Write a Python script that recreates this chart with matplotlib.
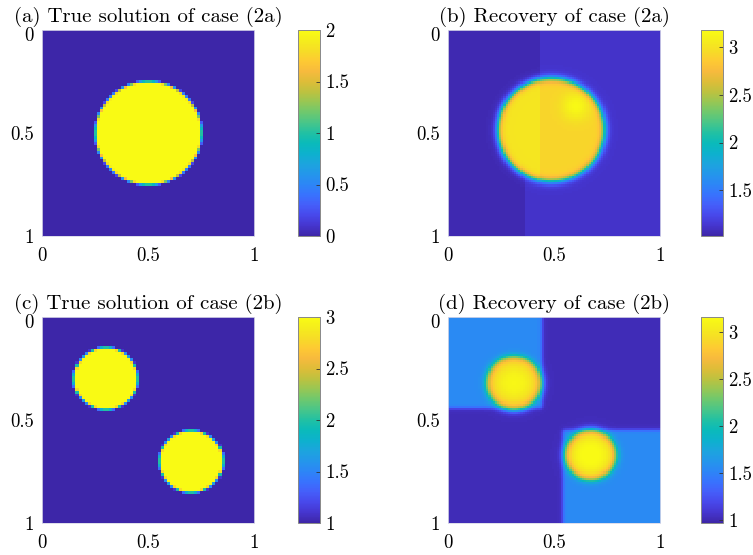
import numpy as np
import matplotlib.pyplot as plt
import matplotlib.transforms as mtrans
from matplotlib.colors import LinearSegmentedColormap

plt.rcParams['font.family'] = ['cmr10', 'DejaVu Serif']
plt.rcParams['axes.formatter.use_mathtext'] = True

# parula-like colormap (anchor colours)
parula_pts = [
    (0.2422, 0.1504, 0.6603), (0.2720, 0.2100, 0.8100), (0.2810, 0.2838, 0.9206),
    (0.2700, 0.3700, 0.9800), (0.2200, 0.4500, 0.9950), (0.1750, 0.5250, 0.9650),
    (0.1400, 0.5900, 0.9200), (0.1100, 0.6450, 0.8700), (0.0500, 0.6950, 0.8050),
    (0.0400, 0.7300, 0.7300), (0.1300, 0.7550, 0.6400), (0.2800, 0.7750, 0.5400),
    (0.4300, 0.7850, 0.4300), (0.5900, 0.7800, 0.3300), (0.7400, 0.7600, 0.2500),
    (0.8700, 0.7400, 0.2200), (0.9700, 0.7300, 0.2400), (0.9950, 0.7900, 0.2000),
    (0.9650, 0.8650, 0.1500), (0.9600, 0.9300, 0.1100), (0.9769, 0.9839, 0.0805),
]
parula = LinearSegmentedColormap.from_list('parula', parula_pts)

titles = ['(a) True solution of case (2a)', '(b) Recovery of case (2a)',
          '(c) True solution of case (2b)', '(d) Recovery of case (2b)']

# true solutions: inclusions (cx, cy, r), background / inclusion value
true_a_disks = [(0.50, 0.50, 0.25)]
true_a_levels = (0.0, 2.0)
true_b_disks = [(0.30, 0.30, 0.15), (0.70, 0.70, 0.15)]
true_b_levels = (1.0, 3.0)

# recovery (2a): background left/right, split x (upper, lower half), disk
rec_a_bg = (1.05, 1.12)
rec_a_split = (0.43, 0.36)
rec_a_disk = (0.485, 0.485, 0.25)
rec_a_inner = (2.92, 0.10)              # base, extra on left part
rec_a_spot = (0.60, 0.37, 0.045, 0.25)  # highlight cx, cy, size, amount

# recovery (2b): background, quadrant value, quadrant limits, disks
rec_b_bg = 1.02
rec_b_quad = 1.55
rec_b_tl = (0.44, 0.44)
rec_b_br = (0.54, 0.55)
rec_b_disks = [(0.31, 0.32, 0.13), (0.67, 0.67, 0.122)]
rec_b_inner = [(2.75, 0.38), (2.80, 0.40)]

clims = [(0, 2), (1.02, 3.18), (1, 3), (0.97, 3.16)]
cticks = [[0, 0.5, 1, 1.5, 2], [1.5, 2, 2.5, 3], [1, 1.5, 2, 2.5, 3], [1, 1.5, 2, 2.5, 3]]
axis_ticks = [0, 0.5, 1]
axis_labels = ['0', '0.5', '1']


def disk_cover(disks, n, sub=8):
    s = (np.arange(n * sub) + 0.5) / (n * sub)
    X, Y = np.meshgrid(s, s)
    inside = np.zeros_like(X)
    for cx, cy, r in disks:
        inside = np.maximum(inside, ((X - cx) ** 2 + (Y - cy) ** 2 <= r ** 2).astype(float))
    return inside.reshape(n, sub, n, sub).mean(axis=(1, 3))


def sig(t):
    return 0.5 * (1 + np.tanh(t))


N = 100
g = (np.arange(N) + 0.5) / N
X, Y = np.meshgrid(g, g)

fa = true_a_levels[0] + (true_a_levels[1] - true_a_levels[0]) * disk_cover(true_a_disks, 70)
fc = true_b_levels[0] + (true_b_levels[1] - true_b_levels[0]) * disk_cover(true_b_disks, 70)

# (b)
split = np.where(Y < 0.5, rec_a_split[0], rec_a_split[1])
bg = np.where(X < split, rec_a_bg[0], rec_a_bg[1])
cx, cy, r = rec_a_disk
d = np.hypot(X - cx, Y - cy)
sx, sy, ss, sa = rec_a_spot
inner = (rec_a_inner[0] + rec_a_inner[1] * (X < 0.43)
         + sa * np.exp(-((X - sx) ** 2 + (Y - sy) ** 2) / (2 * ss ** 2)))
fb = bg + (inner - bg) * sig((r - d) / 0.018)

# (d)
tl = sig((rec_b_tl[0] - X) / 0.01) * sig((rec_b_tl[1] - Y) / 0.01)
br = sig((X - rec_b_br[0]) / 0.01) * sig((Y - rec_b_br[1]) / 0.01)
fd = rec_b_bg + (rec_b_quad - rec_b_bg) * (tl + br)
for (cx, cy, r), (base, amp) in zip(rec_b_disks, rec_b_inner):
    d = np.hypot(X - cx, Y - cy)
    inner = base + amp * np.clip(1 - (d / r) ** 2, 0, 1)
    fd = fd + (inner - fd) * sig((r - d) / 0.018)

fields = [fa, fb, fc, fd]

fig = plt.figure(figsize=(7.53, 5.55), dpi=100)
W, H = 753, 555
ax_x = [42, 448]
cb_x = [298, 701]
row_y = [30, 317]
ax_w, ax_h, cb_w = 212, 206, 22
shift_down = mtrans.ScaledTranslation(0, -4 / 100, fig.dpi_scale_trans)

for k in range(4):
    row, col = divmod(k, 2)
    top = row_y[row]
    ax = fig.add_axes([ax_x[col] / W, 1 - (top + ax_h) / H, ax_w / W, ax_h / H])
    cax = fig.add_axes([cb_x[col] / W, 1 - (top + ax_h) / H, cb_w / W, ax_h / H])
    im = ax.imshow(fields[k], cmap=parula, vmin=clims[k][0], vmax=clims[k][1],
                   extent=[0, 1, 1, 0], aspect='auto', interpolation='nearest')
    ax.set_xticks(axis_ticks)
    ax.set_xticklabels(axis_labels)
    ax.set_yticks(axis_ticks)
    ax.set_yticklabels(axis_labels)
    ax.tick_params(length=0, labelsize=13.5)
    ax.tick_params(axis='x', pad=8)
    ax.tick_params(axis='y', pad=6)
    # top "0" sits a little below the axes edge, as in the original
    lab0 = ax.get_yticklabels()[0]
    lab0.set_transform(lab0.get_transform() + shift_down)
    for sp in ax.spines.values():
        sp.set_color('#d8d8e8')
        sp.set_linewidth(0.6)
    ax.set_title(titles[k], fontsize=15, pad=6)

    cb = fig.colorbar(im, cax=cax, ticks=cticks[k])
    cb.ax.set_yticklabels(['%g' % t for t in cticks[k]])
    cb.ax.tick_params(direction='in', length=3, width=0.6, color='#333333', labelsize=13.5, pad=4)
    cb.outline.set_edgecolor('#888888')
    cb.outline.set_linewidth(0.7)

fig.savefig('out.png', dpi=100)
